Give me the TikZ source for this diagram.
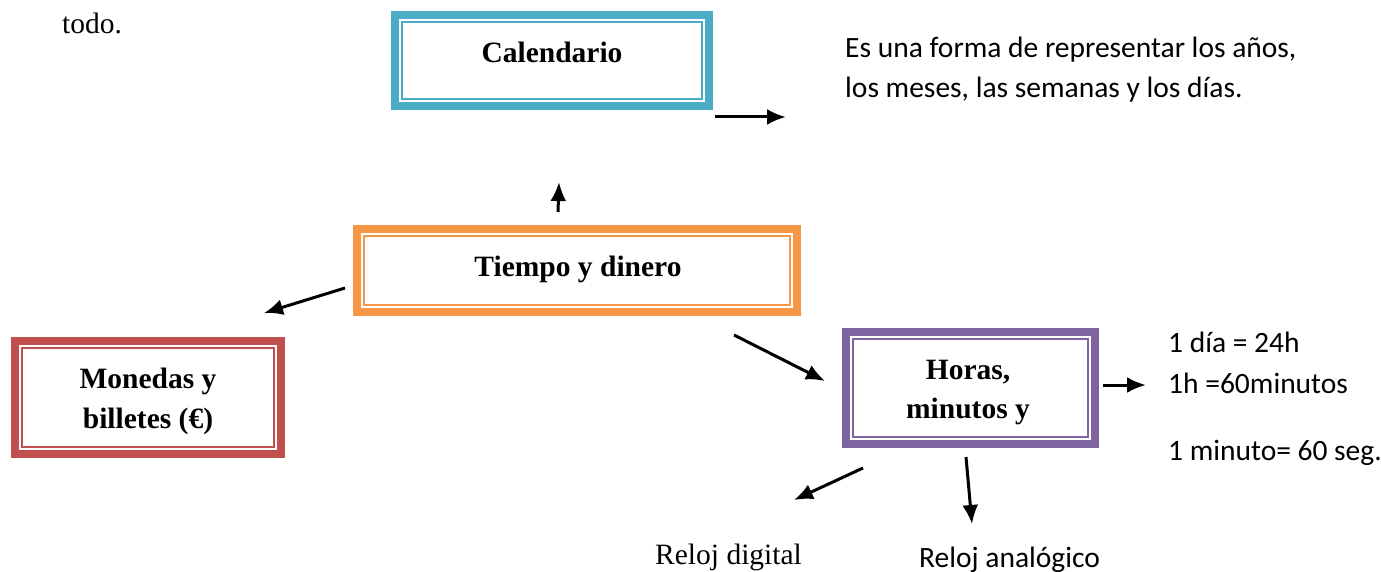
\documentclass[tikz,border=0pt]{standalone}
\usepackage{fontspec}
\setmainfont{Liberation Serif}
\newfontfamily\calib{Carlito}
\usetikzlibrary{arrows.meta,fit}
\definecolor{cteal}{RGB}{75,172,198}
\definecolor{corange}{RGB}{247,150,70}
\definecolor{cred}{RGB}{192,80,77}
\definecolor{cpurple}{RGB}{128,100,162}
\tikzset{
  arr/.style={-{Latex[length=19pt,width=16pt]}, line width=3pt, black},
  boxtxt/.style={anchor=base, inner sep=0pt, font=\fontsize{29.5}{35}\selectfont\bfseries},
  sertxt/.style={anchor=base west, inner sep=0pt, font=\fontsize{29.5}{35}\selectfont},
  caltxt/.style={anchor=base west, inner sep=0pt, font=\calib\fontsize{29.5}{35}\selectfont},
  outerbox/.style={draw=#1, line width=8pt, inner sep=0pt, outer sep=0pt},
  innerbox/.style={draw=#1, line width=2.2pt}
}
\newcommand{\dblbox}[6]{%
  \node[outerbox=#2, fit={(#3+4,#4+4) (#5-4,#6-4)}] (#1) {};
  \draw[innerbox=#2] ([xshift=7pt,yshift=-7pt]#1.north west) rectangle ([xshift=-7pt,yshift=7pt]#1.south east);
}
\begin{document}
\begin{tikzpicture}[x=1pt,y=-1pt]
\useasboundingbox (0,0) rectangle (1381,572);
\fill[white] (0,0) rectangle (1381,572);

% boxes
\dblbox{cal}{cteal}{391}{11}{713}{110}
\dblbox{tie}{corange}{353}{225}{801}{316}
\dblbox{mon}{cred}{11}{337}{285}{458}
\dblbox{hor}{cpurple}{842}{328}{1099}{448}

% box texts
\node[boxtxt] (calt) at (552,63) {Calendario};
\node[boxtxt] (tiet) at (578,276) {Tiempo y dinero};
\node[boxtxt] (mon1) at (148,388) {Monedas y};
\node[boxtxt] (mon2) at (148,428) {billetes (€)};
\node[boxtxt] (hor1) at (968,379) {Horas,};
\node[boxtxt] (hor2) at (968,418) {minutos y};

% free texts
\node[sertxt] (todo) at (62,34) {todo.};
\node[caltxt] (es1) at (845,58) {Es una forma de representar los años,};
\node[caltxt] (es2) at (845,98) {los meses, las semanas y los días.};
\node[caltxt] (d1) at (1168,352) {1 día = 24h};
\node[caltxt] (d2) at (1168,393) {1h =60minutos};
\node[caltxt] (d3) at (1168,460) {1 minuto= 60 seg.};
\node[sertxt] (rd) at (655,564) {Reloj digital};
\node[caltxt] (ra) at (919,567) {Reloj analógico};

% arrow end points
\coordinate (a1s) at (715,117); \coordinate (a1e) at (786,117);
\coordinate (a2s) at (558,212); \coordinate (a2e) at (559,182);
\coordinate (a3s) at (345,288); \coordinate (a3e) at (264,313);
\coordinate (a4s) at (734,335); \coordinate (a4e) at (825,381);
\coordinate (a5s) at (1103,385); \coordinate (a5e) at (1146,385);
\coordinate (a6s) at (863,468); \coordinate (a6e) at (794,500);
\coordinate (a7s) at (966,457); \coordinate (a7e) at (972,524);

\draw[arr] (a1s) -- (a1e);
\draw[arr] (a2s) -- (a2e);
\draw[arr] (a3s) -- (a3e);
\draw[arr] (a4s) -- (a4e);
\draw[arr] (a5s) -- (a5e);
\draw[arr] (a6s) -- (a6e);
\draw[arr] (a7s) -- (a7e);
\end{tikzpicture}
\end{document}
